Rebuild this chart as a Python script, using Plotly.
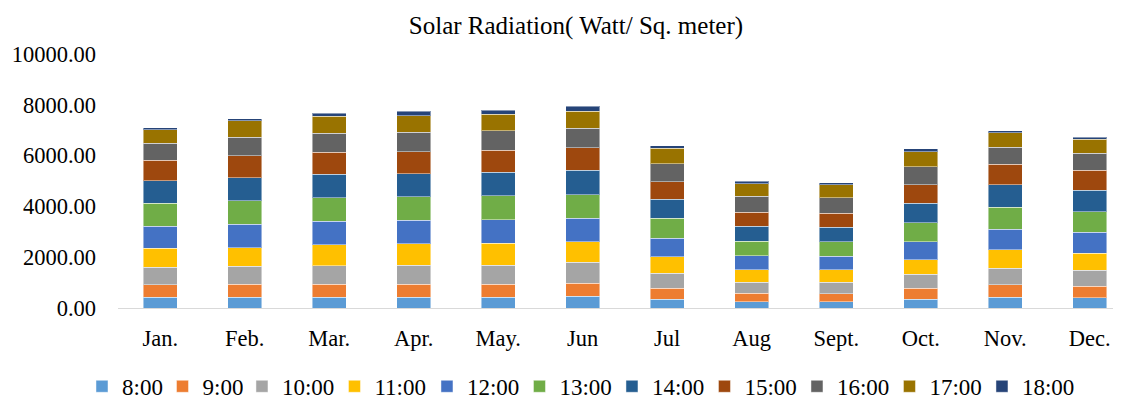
import plotly.graph_objects as go

months = ["Jan.", "Feb.", "Mar.", "Apr.", "May.", "Jun", "Jul", "Aug", "Sept.", "Oct.", "Nov.", "Dec."]
hours = ["8:00", "9:00", "10:00", "11:00", "12:00", "13:00", "14:00", "15:00", "16:00", "17:00", "18:00"]

# 每个时刻的辐射值 (按月份)
h08 = [432, 432, 432, 432, 432, 459, 354, 249, 249, 354, 432, 406]
h09 = [485, 511, 511, 511, 511, 511, 432, 328, 314, 419, 485, 459]
h10 = [694, 694, 721, 734, 747, 825, 590, 432, 445, 550, 655, 629]
h11 = [734, 734, 825, 852, 852, 812, 642, 498, 498, 576, 721, 655]
h12 = [865, 917, 917, 917, 930, 917, 734, 550, 524, 707, 812, 825]
h13 = [917, 930, 943, 930, 943, 930, 786, 576, 576, 747, 865, 825]
h14 = [891, 917, 917, 917, 930, 969, 747, 590, 576, 773, 878, 838]
h15 = [799, 865, 865, 865, 865, 891, 694, 550, 550, 721, 812, 786]
h16 = [668, 721, 747, 760, 760, 760, 707, 629, 616, 721, 668, 668]
h17 = [524, 642, 681, 642, 655, 681, 603, 498, 498, 590, 576, 550]
h18 = [92, 92, 105, 183, 157, 183, 105, 92, 79, 105, 79, 79]

series = [h08, h09, h10, h11, h12, h13, h14, h15, h16, h17, h18]
colors = ["#5B9BD5", "#ED7D31", "#A5A5A5", "#FFC000", "#4472C4", "#70AD47",
          "#255E91", "#9E480E", "#636363", "#997300", "#264478"]

serif = "Liberation Serif"
black = "#000000"

fig = go.Figure()
for i, (name, vals, c) in enumerate(zip(hours, series, colors)):
    # 两位数的时刻放到第二个图例里 (条目更宽)
    fig.add_trace(go.Bar(
        x=months, y=vals, name=name,
        legend="legend" if i < 2 else "legend2",
        marker=dict(color=c, line=dict(color="rgba(255,255,255,0.45)", width=1)),
    ))

legend_common = dict(orientation="h", xanchor="left", y=-0.3084, yanchor="middle",
                     entrywidthmode="pixels", traceorder="normal",
                     bgcolor="rgba(0,0,0,0)",
                     font=dict(family=serif, size=23, color=black))

fig.update_layout(
    barmode="stack",
    bargap=0.6,
    width=1113, height=394,
    margin=dict(l=110, r=0, t=46, b=93.5, autoexpand=False),
    plot_bgcolor="white",
    paper_bgcolor="white",
    font=dict(family=serif, size=22.5, color=black),
    title=dict(text="Solar Radiation( Watt/ Sq. meter)", x=0.5103, xanchor="center",
               y=0.957, yanchor="middle", font=dict(family=serif, size=25, color=black)),
    legend=dict(x=-0.0359, entrywidth=35.5, **legend_common),
    legend2=dict(x=0.1236, entrywidth=47.5, **legend_common),
)

fig.update_xaxes(
    type="category", range=[-0.5, 11.37], automargin=False,
    showline=True, linecolor="#D9D9D9", linewidth=1,
    ticks="", showgrid=False, ticklabelstandoff=10,
    tickfont=dict(family=serif, size=22.5, color=black),
)
fig.update_yaxes(
    range=[0, 10000], dtick=2000, tickformat=".2f", automargin=False,
    showgrid=False, showline=False, zeroline=False,
    ticks="", ticklabelstandoff=21,
    tickfont=dict(family=serif, size=22.5, color=black),
)

fig.write_html("out.html")
